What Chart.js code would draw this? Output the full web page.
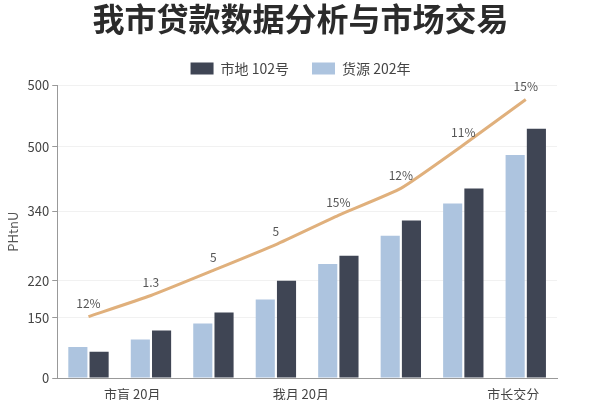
<!DOCTYPE html>
<html>
<head>
<meta charset="utf-8">
<script src="https://cdn.jsdelivr.net/npm/chart.js@4.4.0/dist/chart.umd.min.js"></script>
<style>
  html, body { margin: 0; padding: 0; background: #fff; }
  #wrap { width: 600px; height: 400px; }
</style>
</head>
<body>
<div id="wrap"><canvas id="c"></canvas></div>
<script>
// data
const categories = ["1", "2", "3", "4", "5", "6", "7", "8"];
const supplyValues = [53, 66, 93, 134, 195, 243, 298, 381];   // 货源 202年 (light)
const landValues = [45, 81, 112, 166, 209, 269, 324, 426];    // 市地 102号 (dark)
const rateValues = [105, 141, 184, 228, 278, 324, 398, 476];  // growth line
const rateLabels = ["12%", "1.3", "5", "5", "15%", "12%", "11%", "15%"];

const yTickValues = [0, 103, 166, 285, 395, 500];
const yTickLabels = ["0", "150", "220", "340", "500", "500"];
const xTickPos = [1.2, 3.9, 7.3];
const xTickLabels = ["市肓 20月", "我月 20月", "市长交分"];

const FONT = "'Noto Sans CJK SC', 'Noto Sans', sans-serif";

const lineLabels = {
  id: 'lineLabels',
  afterDatasetsDraw(chart) {
    const meta = chart.getDatasetMeta(2);
    const ctx = chart.ctx;
    ctx.save();
    ctx.font = "12px " + FONT;
    ctx.fillStyle = "#555";
    ctx.textAlign = "center";
    ctx.textBaseline = "bottom";
    meta.data.forEach((pt, i) => {
      ctx.fillText(rateLabels[i], pt.x, pt.y - 7);
    });
    ctx.restore();
  }
};

new Chart(document.getElementById("c"), {
  type: 'bar',
  data: {
    labels: categories,
    datasets: [
      {
        label: "货源 202年",
        data: supplyValues,
        backgroundColor: "#adc4df",
        barPercentage: 0.9,
        categoryPercentage: 0.68
      },
      {
        label: "市地 102号",
        data: landValues,
        backgroundColor: "#3f4554",
        barPercentage: 0.9,
        categoryPercentage: 0.68
      },
      {
        type: 'line',
        label: "rate",
        data: rateValues,
        borderColor: "#e0b07c",
        borderWidth: 3,
        pointRadius: 0,
        tension: 0.15,
        order: -1
      }
    ]
  },
  plugins: [lineLabels],
  options: {
    responsive: true,
    maintainAspectRatio: false,
    animation: false,
    layout: { padding: { left: 1, right: 0, top: 0, bottom: 0 } },
    plugins: {
      title: {
        display: true,
        text: "我市贷款数据分析与市场交易",
        color: "#2b2b2b",
        font: { family: FONT, size: 32, weight: 'bold' },
        padding: { top: 0, bottom: 0 }
      },
      legend: {
        display: true,
        reverse: true,
        labels: {
          filter: item => item.text !== "rate",
          boxWidth: 23,
          boxHeight: 12,
          padding: 23,
          color: "#444",
          font: { family: FONT, size: 14 }
        }
      },
      tooltip: { enabled: false }
    },
    scales: {
      x: { display: false },
      xl: {
        type: 'linear',
        position: 'bottom',
        offset: false,
        min: 0,
        max: 8,
        afterBuildTicks: axis => { axis.ticks = xTickPos.map(v => ({ value: v })); },
        afterFit: axis => { axis.height = 22; },
        ticks: {
          autoSkip: false,
          maxRotation: 0,
          padding: 8,
          color: "#444",
          font: { family: FONT, size: 13 },
          callback: (v, i) => xTickLabels[i]
        },
        grid: { display: false, drawTicks: false },
        border: { color: "#999" }
      },
      y: {
        min: 0,
        max: 500,
        afterBuildTicks: axis => { axis.ticks = yTickValues.map(v => ({ value: v })); },
        title: {
          display: true,
          text: "PHtnU",
          color: "#555",
          font: { family: FONT, size: 13 }
        },
        ticks: {
          autoSkip: false,
          color: "#444",
          font: { family: FONT, size: 13 },
          callback: (v, i) => yTickLabels[i]
        },
        grid: { color: "#f1f1f1", tickColor: "#999", tickLength: 5 },
        border: { color: "#999" }
      },
      yr: {
        position: 'right',
        display: true,
        min: 0,
        max: 500,
        afterFit: axis => { axis.width = 43; },
        ticks: { display: false },
        grid: { display: false },
        border: { display: false }
      }
    }
  }
});
</script>
</body>
</html>
